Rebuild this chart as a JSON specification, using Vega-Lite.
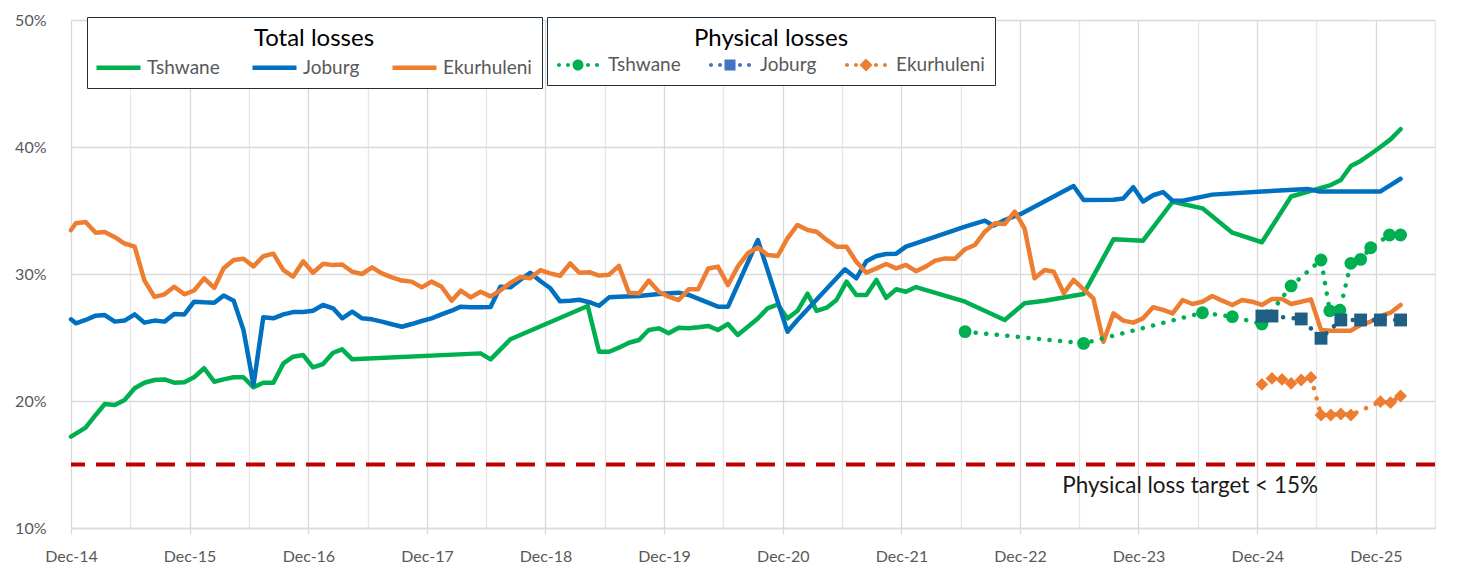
{
  "$schema": "https://vega.github.io/schema/vega-lite/v6.json",
  "width": 1364,
  "height": 508,
  "autosize": {"type": "none"},
  "padding": {"left": 71, "top": 20, "right": 27, "bottom": 43},
  "background": "white",
  "config": {
    "font": "Lato",
    "view": {"stroke": null},
    "axis": {"labelFont": "Lato", "labelFontSize": 16, "labelColor": "#595959", "gridColor": "#d9d9d9", "gridWidth": 1.3, "title": null},
    "legend": {"labelFont": "Lato", "titleFont": "Lato"}
  },
  "datasets": {
    "total": [
      {"date": "2014-12-01", "city": "Tshwane", "value": 17.2},
      {"date": "2015-01-15", "city": "Tshwane", "value": 17.9},
      {"date": "2015-02-15", "city": "Tshwane", "value": 18.9},
      {"date": "2015-03-15", "city": "Tshwane", "value": 19.76},
      {"date": "2015-04-15", "city": "Tshwane", "value": 19.68},
      {"date": "2015-05-15", "city": "Tshwane", "value": 20.08},
      {"date": "2015-06-15", "city": "Tshwane", "value": 21.0},
      {"date": "2015-07-15", "city": "Tshwane", "value": 21.44},
      {"date": "2015-08-15", "city": "Tshwane", "value": 21.65},
      {"date": "2015-09-15", "city": "Tshwane", "value": 21.7},
      {"date": "2015-10-15", "city": "Tshwane", "value": 21.44},
      {"date": "2015-11-15", "city": "Tshwane", "value": 21.47},
      {"date": "2015-12-15", "city": "Tshwane", "value": 21.87},
      {"date": "2016-01-15", "city": "Tshwane", "value": 22.58},
      {"date": "2016-02-15", "city": "Tshwane", "value": 21.52},
      {"date": "2016-03-15", "city": "Tshwane", "value": 21.7},
      {"date": "2016-04-15", "city": "Tshwane", "value": 21.87},
      {"date": "2016-05-15", "city": "Tshwane", "value": 21.87},
      {"date": "2016-06-15", "city": "Tshwane", "value": 21.08},
      {"date": "2016-07-15", "city": "Tshwane", "value": 21.44},
      {"date": "2016-08-15", "city": "Tshwane", "value": 21.44},
      {"date": "2016-09-15", "city": "Tshwane", "value": 22.96},
      {"date": "2016-10-15", "city": "Tshwane", "value": 23.49},
      {"date": "2016-11-15", "city": "Tshwane", "value": 23.62},
      {"date": "2016-12-15", "city": "Tshwane", "value": 22.65},
      {"date": "2017-01-15", "city": "Tshwane", "value": 22.91},
      {"date": "2017-02-15", "city": "Tshwane", "value": 23.8},
      {"date": "2017-03-15", "city": "Tshwane", "value": 24.07},
      {"date": "2017-04-15", "city": "Tshwane", "value": 23.28},
      {"date": "2018-05-15", "city": "Tshwane", "value": 23.75},
      {"date": "2018-06-15", "city": "Tshwane", "value": 23.28},
      {"date": "2018-08-15", "city": "Tshwane", "value": 24.86},
      {"date": "2019-04-10", "city": "Tshwane", "value": 27.48},
      {"date": "2019-05-15", "city": "Tshwane", "value": 23.88},
      {"date": "2019-06-15", "city": "Tshwane", "value": 23.88},
      {"date": "2019-07-15", "city": "Tshwane", "value": 24.2},
      {"date": "2019-08-15", "city": "Tshwane", "value": 24.59},
      {"date": "2019-09-15", "city": "Tshwane", "value": 24.8},
      {"date": "2019-10-15", "city": "Tshwane", "value": 25.59},
      {"date": "2019-11-15", "city": "Tshwane", "value": 25.72},
      {"date": "2019-12-15", "city": "Tshwane", "value": 25.33},
      {"date": "2020-01-15", "city": "Tshwane", "value": 25.77},
      {"date": "2020-02-15", "city": "Tshwane", "value": 25.72},
      {"date": "2020-03-15", "city": "Tshwane", "value": 25.8},
      {"date": "2020-04-15", "city": "Tshwane", "value": 25.91},
      {"date": "2020-05-15", "city": "Tshwane", "value": 25.59},
      {"date": "2020-06-15", "city": "Tshwane", "value": 26.06},
      {"date": "2020-07-15", "city": "Tshwane", "value": 25.2},
      {"date": "2020-08-15", "city": "Tshwane", "value": 25.85},
      {"date": "2020-09-15", "city": "Tshwane", "value": 26.5},
      {"date": "2020-10-15", "city": "Tshwane", "value": 27.3},
      {"date": "2020-11-15", "city": "Tshwane", "value": 27.6},
      {"date": "2020-12-15", "city": "Tshwane", "value": 26.5},
      {"date": "2021-01-15", "city": "Tshwane", "value": 27.1},
      {"date": "2021-02-15", "city": "Tshwane", "value": 28.45},
      {"date": "2021-03-15", "city": "Tshwane", "value": 27.1},
      {"date": "2021-04-15", "city": "Tshwane", "value": 27.35},
      {"date": "2021-05-15", "city": "Tshwane", "value": 27.95},
      {"date": "2021-06-15", "city": "Tshwane", "value": 29.4},
      {"date": "2021-07-15", "city": "Tshwane", "value": 28.35},
      {"date": "2021-08-15", "city": "Tshwane", "value": 28.35},
      {"date": "2021-09-15", "city": "Tshwane", "value": 29.53},
      {"date": "2021-10-15", "city": "Tshwane", "value": 28.12},
      {"date": "2021-11-15", "city": "Tshwane", "value": 28.8},
      {"date": "2021-12-15", "city": "Tshwane", "value": 28.6},
      {"date": "2022-01-15", "city": "Tshwane", "value": 28.97},
      {"date": "2022-06-15", "city": "Tshwane", "value": 27.82},
      {"date": "2022-10-15", "city": "Tshwane", "value": 26.38},
      {"date": "2022-12-15", "city": "Tshwane", "value": 27.69},
      {"date": "2023-02-15", "city": "Tshwane", "value": 27.9},
      {"date": "2023-06-15", "city": "Tshwane", "value": 28.43},
      {"date": "2023-09-15", "city": "Tshwane", "value": 32.73},
      {"date": "2023-12-15", "city": "Tshwane", "value": 32.62},
      {"date": "2024-03-15", "city": "Tshwane", "value": 35.69},
      {"date": "2024-06-15", "city": "Tshwane", "value": 35.17},
      {"date": "2024-09-15", "city": "Tshwane", "value": 33.25},
      {"date": "2024-12-15", "city": "Tshwane", "value": 32.5},
      {"date": "2025-03-15", "city": "Tshwane", "value": 36.1},
      {"date": "2025-07-15", "city": "Tshwane", "value": 37.0},
      {"date": "2025-08-15", "city": "Tshwane", "value": 37.4},
      {"date": "2025-09-15", "city": "Tshwane", "value": 38.5},
      {"date": "2025-10-15", "city": "Tshwane", "value": 38.9},
      {"date": "2025-11-15", "city": "Tshwane", "value": 39.45},
      {"date": "2025-12-15", "city": "Tshwane", "value": 40.0},
      {"date": "2026-01-15", "city": "Tshwane", "value": 40.6},
      {"date": "2026-02-15", "city": "Tshwane", "value": 41.4},

      {"date": "2014-12-01", "city": "Joburg", "value": 26.43},
      {"date": "2014-12-16", "city": "Joburg", "value": 26.12},
      {"date": "2015-01-15", "city": "Joburg", "value": 26.38},
      {"date": "2015-02-15", "city": "Joburg", "value": 26.72},
      {"date": "2015-03-15", "city": "Joburg", "value": 26.77},
      {"date": "2015-04-15", "city": "Joburg", "value": 26.25},
      {"date": "2015-05-15", "city": "Joburg", "value": 26.33},
      {"date": "2015-06-15", "city": "Joburg", "value": 26.82},
      {"date": "2015-07-15", "city": "Joburg", "value": 26.17},
      {"date": "2015-08-15", "city": "Joburg", "value": 26.33},
      {"date": "2015-09-15", "city": "Joburg", "value": 26.25},
      {"date": "2015-10-15", "city": "Joburg", "value": 26.85},
      {"date": "2015-11-15", "city": "Joburg", "value": 26.82},
      {"date": "2015-12-15", "city": "Joburg", "value": 27.82},
      {"date": "2016-01-15", "city": "Joburg", "value": 27.77},
      {"date": "2016-02-15", "city": "Joburg", "value": 27.74},
      {"date": "2016-03-15", "city": "Joburg", "value": 28.3},
      {"date": "2016-04-15", "city": "Joburg", "value": 27.9},
      {"date": "2016-05-15", "city": "Joburg", "value": 25.6},
      {"date": "2016-06-15", "city": "Joburg", "value": 21.26},
      {"date": "2016-07-15", "city": "Joburg", "value": 26.59},
      {"date": "2016-08-15", "city": "Joburg", "value": 26.51},
      {"date": "2016-09-15", "city": "Joburg", "value": 26.82},
      {"date": "2016-10-15", "city": "Joburg", "value": 27.0},
      {"date": "2016-11-15", "city": "Joburg", "value": 27.0},
      {"date": "2016-12-15", "city": "Joburg", "value": 27.11},
      {"date": "2017-01-15", "city": "Joburg", "value": 27.56},
      {"date": "2017-02-15", "city": "Joburg", "value": 27.3},
      {"date": "2017-03-15", "city": "Joburg", "value": 26.51},
      {"date": "2017-04-15", "city": "Joburg", "value": 27.03},
      {"date": "2017-05-15", "city": "Joburg", "value": 26.51},
      {"date": "2017-06-15", "city": "Joburg", "value": 26.43},
      {"date": "2017-07-15", "city": "Joburg", "value": 26.25},
      {"date": "2017-08-15", "city": "Joburg", "value": 26.04},
      {"date": "2017-09-15", "city": "Joburg", "value": 25.85},
      {"date": "2017-10-15", "city": "Joburg", "value": 26.06},
      {"date": "2017-11-15", "city": "Joburg", "value": 26.3},
      {"date": "2017-12-15", "city": "Joburg", "value": 26.51},
      {"date": "2018-01-15", "city": "Joburg", "value": 26.82},
      {"date": "2018-02-15", "city": "Joburg", "value": 27.11},
      {"date": "2018-03-15", "city": "Joburg", "value": 27.43},
      {"date": "2018-04-15", "city": "Joburg", "value": 27.38},
      {"date": "2018-05-15", "city": "Joburg", "value": 27.38},
      {"date": "2018-06-15", "city": "Joburg", "value": 27.4},
      {"date": "2018-07-15", "city": "Joburg", "value": 29.0},
      {"date": "2018-08-15", "city": "Joburg", "value": 28.95},
      {"date": "2018-09-15", "city": "Joburg", "value": 29.55},
      {"date": "2018-10-15", "city": "Joburg", "value": 30.1},
      {"date": "2018-11-15", "city": "Joburg", "value": 29.45},
      {"date": "2018-12-15", "city": "Joburg", "value": 28.9},
      {"date": "2019-01-15", "city": "Joburg", "value": 27.85},
      {"date": "2019-02-15", "city": "Joburg", "value": 27.9},
      {"date": "2019-03-15", "city": "Joburg", "value": 27.97},
      {"date": "2019-04-15", "city": "Joburg", "value": 27.78},
      {"date": "2019-05-15", "city": "Joburg", "value": 27.5},
      {"date": "2019-06-15", "city": "Joburg", "value": 28.16},
      {"date": "2019-07-15", "city": "Joburg", "value": 28.21},
      {"date": "2019-09-15", "city": "Joburg", "value": 28.27},
      {"date": "2019-11-15", "city": "Joburg", "value": 28.43},
      {"date": "2020-01-15", "city": "Joburg", "value": 28.53},
      {"date": "2020-02-15", "city": "Joburg", "value": 28.35},
      {"date": "2020-05-15", "city": "Joburg", "value": 27.43},
      {"date": "2020-06-15", "city": "Joburg", "value": 27.43},
      {"date": "2020-09-15", "city": "Joburg", "value": 32.68},
      {"date": "2020-12-15", "city": "Joburg", "value": 25.46},
      {"date": "2021-01-15", "city": "Joburg", "value": 26.38},
      {"date": "2021-06-10", "city": "Joburg", "value": 30.37},
      {"date": "2021-07-15", "city": "Joburg", "value": 29.66},
      {"date": "2021-08-15", "city": "Joburg", "value": 31.0},
      {"date": "2021-09-15", "city": "Joburg", "value": 31.42},
      {"date": "2021-10-15", "city": "Joburg", "value": 31.57},
      {"date": "2021-11-15", "city": "Joburg", "value": 31.6},
      {"date": "2021-12-15", "city": "Joburg", "value": 32.15},
      {"date": "2022-02-15", "city": "Joburg", "value": 32.68},
      {"date": "2022-06-15", "city": "Joburg", "value": 33.73},
      {"date": "2022-08-15", "city": "Joburg", "value": 34.2},
      {"date": "2022-09-10", "city": "Joburg", "value": 33.8},
      {"date": "2022-10-15", "city": "Joburg", "value": 34.25},
      {"date": "2022-12-08", "city": "Joburg", "value": 34.78},
      {"date": "2023-05-15", "city": "Joburg", "value": 36.93},
      {"date": "2023-06-15", "city": "Joburg", "value": 35.83},
      {"date": "2023-09-15", "city": "Joburg", "value": 35.85},
      {"date": "2023-10-15", "city": "Joburg", "value": 35.95},
      {"date": "2023-11-15", "city": "Joburg", "value": 36.83},
      {"date": "2023-12-15", "city": "Joburg", "value": 35.7},
      {"date": "2024-01-15", "city": "Joburg", "value": 36.2},
      {"date": "2024-02-15", "city": "Joburg", "value": 36.45},
      {"date": "2024-03-15", "city": "Joburg", "value": 35.77},
      {"date": "2024-04-15", "city": "Joburg", "value": 35.77},
      {"date": "2024-07-15", "city": "Joburg", "value": 36.25},
      {"date": "2024-12-15", "city": "Joburg", "value": 36.5},
      {"date": "2025-05-05", "city": "Joburg", "value": 36.7},
      {"date": "2025-06-10", "city": "Joburg", "value": 36.5},
      {"date": "2025-12-15", "city": "Joburg", "value": 36.5},
      {"date": "2026-01-15", "city": "Joburg", "value": 37.0},
      {"date": "2026-02-15", "city": "Joburg", "value": 37.5},

      {"date": "2014-12-01", "city": "Ekurhuleni", "value": 33.46},
      {"date": "2014-12-16", "city": "Ekurhuleni", "value": 34.0},
      {"date": "2015-01-15", "city": "Ekurhuleni", "value": 34.1},
      {"date": "2015-02-15", "city": "Ekurhuleni", "value": 33.25},
      {"date": "2015-03-15", "city": "Ekurhuleni", "value": 33.3},
      {"date": "2015-04-15", "city": "Ekurhuleni", "value": 32.9},
      {"date": "2015-05-15", "city": "Ekurhuleni", "value": 32.4},
      {"date": "2015-06-15", "city": "Ekurhuleni", "value": 32.15},
      {"date": "2015-07-15", "city": "Ekurhuleni", "value": 29.5},
      {"date": "2015-08-15", "city": "Ekurhuleni", "value": 28.2},
      {"date": "2015-09-15", "city": "Ekurhuleni", "value": 28.4},
      {"date": "2015-10-15", "city": "Ekurhuleni", "value": 29.0},
      {"date": "2015-11-15", "city": "Ekurhuleni", "value": 28.4},
      {"date": "2015-12-15", "city": "Ekurhuleni", "value": 28.7},
      {"date": "2016-01-15", "city": "Ekurhuleni", "value": 29.66},
      {"date": "2016-02-15", "city": "Ekurhuleni", "value": 28.9},
      {"date": "2016-03-15", "city": "Ekurhuleni", "value": 30.45},
      {"date": "2016-04-15", "city": "Ekurhuleni", "value": 31.1},
      {"date": "2016-05-15", "city": "Ekurhuleni", "value": 31.2},
      {"date": "2016-06-15", "city": "Ekurhuleni", "value": 30.6},
      {"date": "2016-07-15", "city": "Ekurhuleni", "value": 31.4},
      {"date": "2016-08-15", "city": "Ekurhuleni", "value": 31.6},
      {"date": "2016-09-15", "city": "Ekurhuleni", "value": 30.3},
      {"date": "2016-10-15", "city": "Ekurhuleni", "value": 29.8},
      {"date": "2016-11-15", "city": "Ekurhuleni", "value": 31.0},
      {"date": "2016-12-15", "city": "Ekurhuleni", "value": 30.1},
      {"date": "2017-01-15", "city": "Ekurhuleni", "value": 30.8},
      {"date": "2017-02-15", "city": "Ekurhuleni", "value": 30.7},
      {"date": "2017-03-15", "city": "Ekurhuleni", "value": 30.75},
      {"date": "2017-04-15", "city": "Ekurhuleni", "value": 30.18},
      {"date": "2017-05-15", "city": "Ekurhuleni", "value": 30.0},
      {"date": "2017-06-15", "city": "Ekurhuleni", "value": 30.52},
      {"date": "2017-07-15", "city": "Ekurhuleni", "value": 30.05},
      {"date": "2017-08-15", "city": "Ekurhuleni", "value": 29.74},
      {"date": "2017-09-15", "city": "Ekurhuleni", "value": 29.48},
      {"date": "2017-10-15", "city": "Ekurhuleni", "value": 29.4},
      {"date": "2017-11-15", "city": "Ekurhuleni", "value": 28.95},
      {"date": "2017-12-15", "city": "Ekurhuleni", "value": 29.4},
      {"date": "2018-01-15", "city": "Ekurhuleni", "value": 29.0},
      {"date": "2018-02-15", "city": "Ekurhuleni", "value": 27.9},
      {"date": "2018-03-15", "city": "Ekurhuleni", "value": 28.69},
      {"date": "2018-04-15", "city": "Ekurhuleni", "value": 28.16},
      {"date": "2018-05-15", "city": "Ekurhuleni", "value": 28.6},
      {"date": "2018-06-15", "city": "Ekurhuleni", "value": 28.24},
      {"date": "2018-07-15", "city": "Ekurhuleni", "value": 28.7},
      {"date": "2018-08-15", "city": "Ekurhuleni", "value": 29.3},
      {"date": "2018-09-15", "city": "Ekurhuleni", "value": 29.76},
      {"date": "2018-10-15", "city": "Ekurhuleni", "value": 29.66},
      {"date": "2018-11-15", "city": "Ekurhuleni", "value": 30.3},
      {"date": "2018-12-15", "city": "Ekurhuleni", "value": 30.05},
      {"date": "2019-01-15", "city": "Ekurhuleni", "value": 29.86},
      {"date": "2019-02-15", "city": "Ekurhuleni", "value": 30.84},
      {"date": "2019-03-15", "city": "Ekurhuleni", "value": 30.1},
      {"date": "2019-04-15", "city": "Ekurhuleni", "value": 30.14},
      {"date": "2019-05-15", "city": "Ekurhuleni", "value": 29.88},
      {"date": "2019-06-15", "city": "Ekurhuleni", "value": 29.95},
      {"date": "2019-07-15", "city": "Ekurhuleni", "value": 30.64},
      {"date": "2019-08-15", "city": "Ekurhuleni", "value": 28.53},
      {"date": "2019-09-15", "city": "Ekurhuleni", "value": 28.48},
      {"date": "2019-10-15", "city": "Ekurhuleni", "value": 29.48},
      {"date": "2019-11-15", "city": "Ekurhuleni", "value": 28.6},
      {"date": "2019-12-15", "city": "Ekurhuleni", "value": 28.21},
      {"date": "2020-01-15", "city": "Ekurhuleni", "value": 27.95},
      {"date": "2020-02-15", "city": "Ekurhuleni", "value": 28.79},
      {"date": "2020-03-15", "city": "Ekurhuleni", "value": 28.79},
      {"date": "2020-04-15", "city": "Ekurhuleni", "value": 30.44},
      {"date": "2020-05-15", "city": "Ekurhuleni", "value": 30.58},
      {"date": "2020-06-15", "city": "Ekurhuleni", "value": 29.13},
      {"date": "2020-07-15", "city": "Ekurhuleni", "value": 30.58},
      {"date": "2020-08-15", "city": "Ekurhuleni", "value": 31.63},
      {"date": "2020-09-15", "city": "Ekurhuleni", "value": 32.1},
      {"date": "2020-10-15", "city": "Ekurhuleni", "value": 31.5},
      {"date": "2020-11-15", "city": "Ekurhuleni", "value": 31.42},
      {"date": "2020-12-15", "city": "Ekurhuleni", "value": 32.81},
      {"date": "2021-01-15", "city": "Ekurhuleni", "value": 33.86},
      {"date": "2021-02-15", "city": "Ekurhuleni", "value": 33.46},
      {"date": "2021-03-15", "city": "Ekurhuleni", "value": 33.33},
      {"date": "2021-04-15", "city": "Ekurhuleni", "value": 32.68},
      {"date": "2021-05-15", "city": "Ekurhuleni", "value": 32.15},
      {"date": "2021-06-15", "city": "Ekurhuleni", "value": 32.15},
      {"date": "2021-07-15", "city": "Ekurhuleni", "value": 30.97},
      {"date": "2021-08-15", "city": "Ekurhuleni", "value": 30.1},
      {"date": "2021-09-15", "city": "Ekurhuleni", "value": 30.44},
      {"date": "2021-10-15", "city": "Ekurhuleni", "value": 30.79},
      {"date": "2021-11-15", "city": "Ekurhuleni", "value": 30.44},
      {"date": "2021-12-15", "city": "Ekurhuleni", "value": 30.71},
      {"date": "2022-01-15", "city": "Ekurhuleni", "value": 30.22},
      {"date": "2022-02-15", "city": "Ekurhuleni", "value": 30.6},
      {"date": "2022-03-15", "city": "Ekurhuleni", "value": 31.05},
      {"date": "2022-04-15", "city": "Ekurhuleni", "value": 31.23},
      {"date": "2022-05-15", "city": "Ekurhuleni", "value": 31.2},
      {"date": "2022-06-15", "city": "Ekurhuleni", "value": 31.95},
      {"date": "2022-07-15", "city": "Ekurhuleni", "value": 32.28},
      {"date": "2022-08-15", "city": "Ekurhuleni", "value": 33.33},
      {"date": "2022-09-15", "city": "Ekurhuleni", "value": 33.99},
      {"date": "2022-10-15", "city": "Ekurhuleni", "value": 33.94},
      {"date": "2022-11-15", "city": "Ekurhuleni", "value": 34.91},
      {"date": "2022-12-15", "city": "Ekurhuleni", "value": 33.6},
      {"date": "2023-01-15", "city": "Ekurhuleni", "value": 29.66},
      {"date": "2023-02-15", "city": "Ekurhuleni", "value": 30.31},
      {"date": "2023-03-15", "city": "Ekurhuleni", "value": 30.18},
      {"date": "2023-04-15", "city": "Ekurhuleni", "value": 28.48},
      {"date": "2023-05-15", "city": "Ekurhuleni", "value": 29.53},
      {"date": "2023-06-15", "city": "Ekurhuleni", "value": 28.79},
      {"date": "2023-07-15", "city": "Ekurhuleni", "value": 28.08},
      {"date": "2023-08-15", "city": "Ekurhuleni", "value": 24.67},
      {"date": "2023-09-15", "city": "Ekurhuleni", "value": 26.9},
      {"date": "2023-10-15", "city": "Ekurhuleni", "value": 26.33},
      {"date": "2023-11-15", "city": "Ekurhuleni", "value": 26.17},
      {"date": "2023-12-15", "city": "Ekurhuleni", "value": 26.51},
      {"date": "2024-01-15", "city": "Ekurhuleni", "value": 27.38},
      {"date": "2024-02-15", "city": "Ekurhuleni", "value": 27.17},
      {"date": "2024-03-15", "city": "Ekurhuleni", "value": 26.9},
      {"date": "2024-04-15", "city": "Ekurhuleni", "value": 27.95},
      {"date": "2024-05-15", "city": "Ekurhuleni", "value": 27.64},
      {"date": "2024-06-15", "city": "Ekurhuleni", "value": 27.82},
      {"date": "2024-07-15", "city": "Ekurhuleni", "value": 28.27},
      {"date": "2024-08-15", "city": "Ekurhuleni", "value": 27.9},
      {"date": "2024-09-15", "city": "Ekurhuleni", "value": 27.56},
      {"date": "2024-10-15", "city": "Ekurhuleni", "value": 27.95},
      {"date": "2024-11-15", "city": "Ekurhuleni", "value": 27.82},
      {"date": "2024-12-15", "city": "Ekurhuleni", "value": 27.56},
      {"date": "2025-01-15", "city": "Ekurhuleni", "value": 28.03},
      {"date": "2025-02-15", "city": "Ekurhuleni", "value": 28.03},
      {"date": "2025-03-15", "city": "Ekurhuleni", "value": 27.64},
      {"date": "2025-04-15", "city": "Ekurhuleni", "value": 27.82},
      {"date": "2025-05-15", "city": "Ekurhuleni", "value": 28.0},
      {"date": "2025-06-15", "city": "Ekurhuleni", "value": 25.6},
      {"date": "2025-07-15", "city": "Ekurhuleni", "value": 25.54},
      {"date": "2025-08-15", "city": "Ekurhuleni", "value": 25.54},
      {"date": "2025-09-15", "city": "Ekurhuleni", "value": 25.54},
      {"date": "2025-10-15", "city": "Ekurhuleni", "value": 26.0},
      {"date": "2025-11-15", "city": "Ekurhuleni", "value": 26.25},
      {"date": "2025-12-15", "city": "Ekurhuleni", "value": 26.69},
      {"date": "2026-01-15", "city": "Ekurhuleni", "value": 26.95},
      {"date": "2026-02-15", "city": "Ekurhuleni", "value": 27.56}
    ],
    "physical": [
      {"date": "2022-06-15", "city": "Tshwane", "value": 25.46},
      {"date": "2023-06-15", "city": "Tshwane", "value": 24.54},
      {"date": "2024-06-15", "city": "Tshwane", "value": 26.95},
      {"date": "2024-09-15", "city": "Tshwane", "value": 26.64},
      {"date": "2024-12-15", "city": "Tshwane", "value": 26.06},
      {"date": "2025-03-15", "city": "Tshwane", "value": 29.06},
      {"date": "2025-06-15", "city": "Tshwane", "value": 31.1},
      {"date": "2025-07-12", "city": "Tshwane", "value": 27.1},
      {"date": "2025-08-12", "city": "Tshwane", "value": 27.15},
      {"date": "2025-09-15", "city": "Tshwane", "value": 30.84},
      {"date": "2025-10-15", "city": "Tshwane", "value": 31.15},
      {"date": "2025-11-15", "city": "Tshwane", "value": 32.07},
      {"date": "2026-01-12", "city": "Tshwane", "value": 33.07},
      {"date": "2026-02-15", "city": "Tshwane", "value": 33.07},
      {"date": "2024-12-15", "city": "Joburg", "value": 26.69},
      {"date": "2025-01-15", "city": "Joburg", "value": 26.69},
      {"date": "2025-04-15", "city": "Joburg", "value": 26.46},
      {"date": "2025-06-15", "city": "Joburg", "value": 24.94},
      {"date": "2025-08-15", "city": "Joburg", "value": 26.38},
      {"date": "2025-10-15", "city": "Joburg", "value": 26.38},
      {"date": "2025-12-15", "city": "Joburg", "value": 26.38},
      {"date": "2026-02-15", "city": "Joburg", "value": 26.38},
      {"date": "2024-12-15", "city": "Ekurhuleni", "value": 21.31},
      {"date": "2025-01-15", "city": "Ekurhuleni", "value": 21.78},
      {"date": "2025-02-15", "city": "Ekurhuleni", "value": 21.7},
      {"date": "2025-03-15", "city": "Ekurhuleni", "value": 21.39},
      {"date": "2025-04-15", "city": "Ekurhuleni", "value": 21.65},
      {"date": "2025-05-15", "city": "Ekurhuleni", "value": 21.86},
      {"date": "2025-06-15", "city": "Ekurhuleni", "value": 18.9},
      {"date": "2025-07-15", "city": "Ekurhuleni", "value": 18.9},
      {"date": "2025-08-15", "city": "Ekurhuleni", "value": 18.98},
      {"date": "2025-09-15", "city": "Ekurhuleni", "value": 18.9},
      {"date": "2025-12-15", "city": "Ekurhuleni", "value": 19.95},
      {"date": "2026-01-15", "city": "Ekurhuleni", "value": 19.87},
      {"date": "2026-02-15", "city": "Ekurhuleni", "value": 20.39}
    ]
  },
  "layer": [
    {
      "data": {"name": "total"},
      "mark": {"type": "line", "strokeWidth": 4.5, "strokeJoin": "round", "strokeCap": "round"},
      "encoding": {
        "x": {
          "field": "date", "type": "temporal",
          "scale": {"type": "utc", "domain": [{"year": 2014, "month": 12, "date": 1, "utc": true}, {"year": 2026, "month": 6, "date": 1, "utc": true}]},
          "axis": {
            "title": null,
            "values": [
              {"year": 2014, "month": 12, "date": 1, "utc": true},
              {"year": 2015, "month": 6, "date": 1, "utc": true},
              {"year": 2015, "month": 12, "date": 1, "utc": true},
              {"year": 2016, "month": 6, "date": 1, "utc": true},
              {"year": 2016, "month": 12, "date": 1, "utc": true},
              {"year": 2017, "month": 6, "date": 1, "utc": true},
              {"year": 2017, "month": 12, "date": 1, "utc": true},
              {"year": 2018, "month": 6, "date": 1, "utc": true},
              {"year": 2018, "month": 12, "date": 1, "utc": true},
              {"year": 2019, "month": 6, "date": 1, "utc": true},
              {"year": 2019, "month": 12, "date": 1, "utc": true},
              {"year": 2020, "month": 6, "date": 1, "utc": true},
              {"year": 2020, "month": 12, "date": 1, "utc": true},
              {"year": 2021, "month": 6, "date": 1, "utc": true},
              {"year": 2021, "month": 12, "date": 1, "utc": true},
              {"year": 2022, "month": 6, "date": 1, "utc": true},
              {"year": 2022, "month": 12, "date": 1, "utc": true},
              {"year": 2023, "month": 6, "date": 1, "utc": true},
              {"year": 2023, "month": 12, "date": 1, "utc": true},
              {"year": 2024, "month": 6, "date": 1, "utc": true},
              {"year": 2024, "month": 12, "date": 1, "utc": true},
              {"year": 2025, "month": 6, "date": 1, "utc": true},
              {"year": 2025, "month": 12, "date": 1, "utc": true},
              {"year": 2026, "month": 6, "date": 1, "utc": true}
            ],
            "labelExpr": "utcmonth(datum.value) == 11 ? utcFormat(datum.value, '%b-%y') : ''",
            "labelFlush": false,
            "labelOverlap": false,
            "grid": true,
            "gridColor": {"condition": {"test": "utcmonth(datum.value) == 11", "value": "#d9d9d9"}, "value": "#e6e6e6"},
            "domain": true,
            "domainColor": "#d9d9d9",
            "domainWidth": 1.3,
            "ticks": true,
            "tickSize": 6,
            "tickColor": "#d9d9d9",
            "tickWidth": 1.3,
            "tickOpacity": {"condition": {"test": "utcmonth(datum.value) != 11", "value": 0}, "value": 1},
            "labelPadding": 14
          }
        },
        "y": {
          "field": "value", "type": "quantitative",
          "scale": {"domain": [10, 50], "nice": false, "zero": false},
          "axis": {
            "title": null,
            "values": [10, 20, 30, 40, 50],
            "labelExpr": "datum.value + '%'",
            "grid": true,
            "domain": false,
            "ticks": false,
            "tickSize": 0,
            "labelPadding": 25
          }
        },
        "stroke": {
          "field": "city", "type": "nominal",
          "scale": {"domain": ["Tshwane", "Joburg", "Ekurhuleni"], "range": ["#00B050", "#0070C0", "#ED7D31"]},
          "legend": {
            "title": "Total losses",
            "orient": "none",
            "legendX": 16,
            "legendY": -3,
            "direction": "horizontal",
            "columns": 3,
            "symbolType": "M -1.3,0 L 3.1,0",
            "symbolSize": 400,
            "symbolStrokeWidth": 4.5,
            "labelOffset": 25,
            "columnPadding": 23,
            "padding": 10,
            "strokeColor": "#1E2F3C",
            "fillColor": "white",
            "titleAnchor": "middle",
            "titleFontSize": 24,
            "titleFontWeight": "normal",
            "titleColor": "black",
            "titlePadding": 4,
            "labelFontSize": 19,
            "labelColor": "#595959",
            "encode": {"legend": {"strokeWidth": {"value": 1.5}}}
          }
        }
      }
    },
    {
      "data": {"name": "physical"},
      "mark": {"type": "line", "strokeWidth": 4.5, "strokeCap": "round", "strokeDash": [0.1, 10.5]},
      "encoding": {
        "x": {"field": "date", "type": "temporal"},
        "y": {"field": "value", "type": "quantitative"},
        "color": {
          "field": "city", "type": "nominal",
          "scale": {"domain": ["Tshwane", "Joburg", "Ekurhuleni"], "range": ["#00B050", "#1F5F84", "#ED7D31"]},
          "legend": null
        }
      }
    },
    {
      "data": {"name": "physical"},
      "mark": {"type": "point", "filled": true, "opacity": 1, "size": 165, "strokeWidth": 0},
      "encoding": {
        "x": {"field": "date", "type": "temporal"},
        "y": {"field": "value", "type": "quantitative"},
        "shape": {
          "field": "city", "type": "nominal",
          "scale": {"domain": ["Tshwane", "Joburg", "Ekurhuleni"], "range": ["circle", "square", "diamond"]},
          "legend": null
        },
        "fill": {
          "field": "city", "type": "nominal",
          "scale": {"domain": ["Tshwane", "Joburg", "Ekurhuleni"], "range": ["#00B050", "#1F5F84", "#ED7D31"]},
          "legend": null
        }
      }
    },
    {
      "data": {"name": "physical"},
      "mark": {"type": "point", "filled": true, "opacity": 0, "size": 10, "strokeWidth": 0},
      "encoding": {
        "x": {"field": "date", "type": "temporal"},
        "y": {"field": "value", "type": "quantitative"},
        "shape": {
          "field": "city", "type": "nominal",
          "scale": {
            "domain": ["Tshwane", "Joburg", "Ekurhuleni"],
            "range": [
              "M 1.65,0 A 0.55,0.55 0 1,1 0.55,0 A 0.55,0.55 0 1,1 1.65,0 Z M -0.6,0 A 0.2,0.2 0 1,1 -1.0,0 A 0.2,0.2 0 1,1 -0.6,0 Z M 0.3,0 A 0.2,0.2 0 1,1 -0.1,0 A 0.2,0.2 0 1,1 0.3,0 Z M 2.3,0 A 0.2,0.2 0 1,1 1.9,0 A 0.2,0.2 0 1,1 2.3,0 Z M 3.2,0 A 0.2,0.2 0 1,1 2.8,0 A 0.2,0.2 0 1,1 3.2,0 Z",
              "M 0.55,-0.55 L 1.65,-0.55 L 1.65,0.55 L 0.55,0.55 Z M -0.6,0 A 0.2,0.2 0 1,1 -1.0,0 A 0.2,0.2 0 1,1 -0.6,0 Z M 0.3,0 A 0.2,0.2 0 1,1 -0.1,0 A 0.2,0.2 0 1,1 0.3,0 Z M 2.3,0 A 0.2,0.2 0 1,1 1.9,0 A 0.2,0.2 0 1,1 2.3,0 Z M 3.2,0 A 0.2,0.2 0 1,1 2.8,0 A 0.2,0.2 0 1,1 3.2,0 Z",
              "M 1.1,-0.65 L 1.75,0 L 1.1,0.65 L 0.45,0 Z M -0.6,0 A 0.2,0.2 0 1,1 -1.0,0 A 0.2,0.2 0 1,1 -0.6,0 Z M 0.3,0 A 0.2,0.2 0 1,1 -0.1,0 A 0.2,0.2 0 1,1 0.3,0 Z M 2.3,0 A 0.2,0.2 0 1,1 1.9,0 A 0.2,0.2 0 1,1 2.3,0 Z M 3.2,0 A 0.2,0.2 0 1,1 2.8,0 A 0.2,0.2 0 1,1 3.2,0 Z"
            ]
          }
        },
        "fill": {
          "field": "city", "type": "nominal",
          "scale": {"domain": ["Tshwane", "Joburg", "Ekurhuleni"], "range": ["#00B050", "#4472C4", "#ED7D31"]},
          "legend": {
            "title": "Physical losses",
            "orient": "none",
            "legendX": 476,
            "legendY": -3,
            "direction": "horizontal",
            "columns": 3,
            "symbolSize": 400,
            "symbolOpacity": 1,
            "symbolStrokeWidth": 0,
            "labelOffset": 31,
            "columnPadding": 28,
            "padding": 10,
            "strokeColor": "#1E2F3C",
            "fillColor": "white",
            "titleAnchor": "middle",
            "titleFontSize": 24,
            "titleFontWeight": "normal",
            "titleColor": "black",
            "titlePadding": 4,
            "labelFontSize": 19,
            "labelColor": "#595959",
            "encode": {"legend": {"strokeWidth": {"value": 1.5}}}
          }
        }
      }
    },
    {
      "data": {"values": [{"target": 15}]},
      "mark": {"type": "rule", "color": "#C00000", "strokeWidth": 4, "strokeDash": [19, 11]},
      "encoding": {"y": {"field": "target", "type": "quantitative"}}
    },
    {
      "data": {"values": [{"date": "2024-05-08", "value": 13.28, "label": "Physical loss target < 15%"}]},
      "mark": {"type": "text", "font": "Lato", "fontSize": 22.5, "color": "#1a1a1a", "align": "center", "baseline": "middle"},
      "encoding": {
        "x": {"field": "date", "type": "temporal"},
        "y": {"field": "value", "type": "quantitative"},
        "text": {"field": "label"}
      }
    }
  ],
  "resolve": {"scale": {"stroke": "independent", "fill": "independent", "color": "independent", "shape": "independent"}}
}
